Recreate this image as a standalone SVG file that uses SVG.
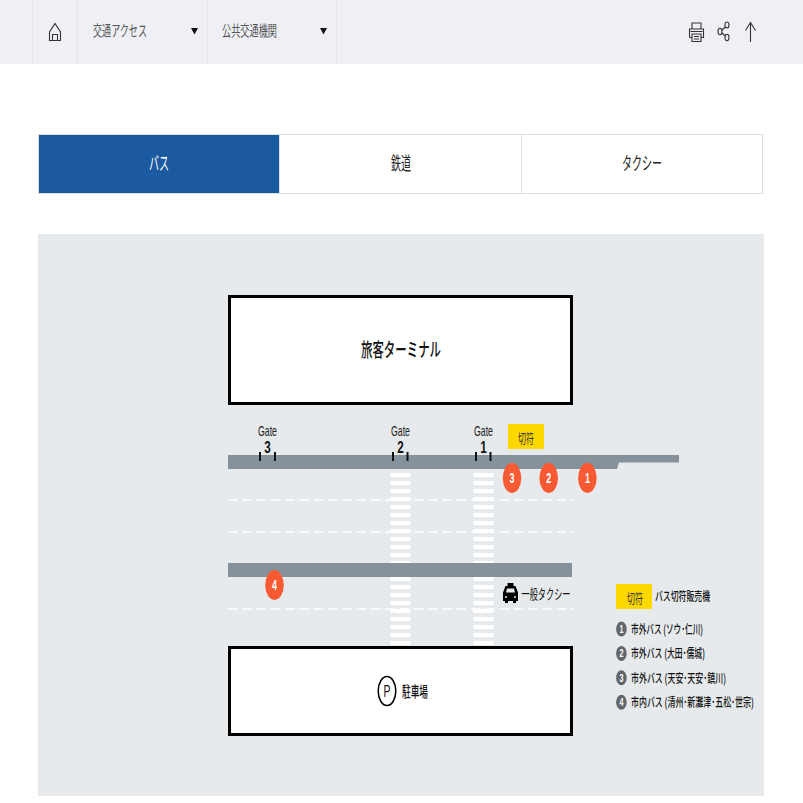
<svg xmlns="http://www.w3.org/2000/svg" width="803" height="803" viewBox="0 0 803 803">
<style>
text{font-family:"Noto Sans CJK JP","Noto Sans",sans-serif;fill:#111}
.nav{font-size:14.500px;fill:#555}
.tab{font-size:18px;text-anchor:middle;fill:#222}
.ln{fill:none;stroke:#333;stroke-width:1.100}
.sep{stroke:#e3e5e8;stroke-width:1}
.dash{stroke:#fff;stroke-width:1.500;stroke-dasharray:9.500 4.800;fill:none}
.road{fill:#85929b}
.stripe{stroke:#fff;stroke-width:20;stroke-dasharray:4 4;fill:none}
.bld{fill:#fff;stroke:#000;stroke-width:3}
.tick{stroke:#111;stroke-width:2}
.gate{font-family:"Liberation Sans",sans-serif;font-size:15px;text-anchor:middle;fill:#222}
.gn{font-family:"Liberation Sans",sans-serif;font-size:17px;font-weight:700;text-anchor:middle}
.pin{fill:#f95a33}
.pt{font-family:"Liberation Sans",sans-serif;font-weight:700;font-size:14px;fill:#fff;text-anchor:middle}
.leg{font-size:12.500px;font-weight:500}
.lc{fill:#5f666c}
.lt{font-family:"Liberation Sans",sans-serif;font-weight:700;font-size:11px;fill:#fff;text-anchor:middle}
.tk{fill:#ffd800}
.tkt{font-size:13px;text-anchor:middle;fill:#333}
</style>
<rect width="803" height="803" fill="#fff"/>
<g id="topbar">
<rect x="0" y="0" width="803" height="64" fill="#eef0f5"/>
<path class="sep" d="M32.500 0V64M77.500 0V64M207.500 0V64M336.500 0V64"/>
<path class="ln" d="M49.500 40.500V32L55 23.500L60.500 32V40.500ZM52.500 40.500V34.500H57.500V40.500"/>
<text class="nav" x="93" y="36" textLength="54" lengthAdjust="spacingAndGlyphs">交通アクセス</text>
<path d="M191 28H198L194.500 34.500Z" fill="#111"/>
<text class="nav" x="222" y="36" textLength="55" lengthAdjust="spacingAndGlyphs">公共交通機関</text>
<path d="M320 28H327L323.500 34.500Z" fill="#111"/>
<path class="ln" d="M692 28.500V23H701V28.500M689.500 37.500V29H703.500V37.500H701M692 37.500H689.500M692 34H701V41.500H692ZM694 36.500H699M694 39H699M690.500 31.500H702.500"/>
<path class="ln" d="M722 30L725.300 27M722 33L725.300 36"/>
<ellipse class="ln" cx="720" cy="31.500" rx="2" ry="3.200"/>
<ellipse class="ln" cx="727" cy="25" rx="2" ry="3"/>
<ellipse class="ln" cx="727" cy="37.500" rx="2" ry="3.200"/>
<path class="ln" d="M750.500 42V22.500M745.500 30.500L750.500 22.500L755.500 30.500"/>
</g>
<g id="tabs">
<rect x="38.500" y="134.500" width="724" height="59" fill="#fff" stroke="#dcdfe2"/>
<rect x="39" y="135" width="240.500" height="58" fill="#1b5aa0"/>
<path d="M521.500 135V193" stroke="#dcdfe2"/>
<path d="M279.500 135V193" stroke="#dcdfe2"/>
<text class="tab" x="159" y="170" style="fill:#fff" textLength="20" lengthAdjust="spacingAndGlyphs">バス</text>
<text class="tab" x="401" y="170" textLength="20" lengthAdjust="spacingAndGlyphs">鉄道</text>
<text class="tab" x="642" y="170" textLength="40" lengthAdjust="spacingAndGlyphs">タクシー</text>
</g>
<rect x="38" y="234" width="726" height="562" fill="#e7eaed"/>
<g id="connectors">
<path class="dash" d="M228 500H574M228 532H574M228 609H574"/>
<path class="stripe" d="M400.500 473V645M483.500 473V645"/>
</g>
<g id="terminal">
<rect class="bld" x="229.500" y="296.500" width="342" height="107"/>
<text x="401" y="357" font-size="19" font-weight="500" text-anchor="middle" textLength="80" lengthAdjust="spacingAndGlyphs">旅客ターミナル</text>
</g>
<g id="road-upper">
<path class="road" d="M228 455H679V462.500H619L617 469H228Z"/>
</g>
<g id="road-lower">
<rect class="road" x="228" y="563" width="344" height="14"/>
</g>
<g id="gate3">
<text class="gate" x="267.500" y="436" textLength="19" lengthAdjust="spacingAndGlyphs">Gate</text>
<text class="gn" x="267.500" y="453" textLength="6.500" lengthAdjust="spacingAndGlyphs">3</text>
<path class="tick" d="M260 452V461M275 452V461"/>
</g>
<g id="gate2">
<text class="gate" x="400.500" y="436" textLength="19" lengthAdjust="spacingAndGlyphs">Gate</text>
<text class="gn" x="400.500" y="453" textLength="6.500" lengthAdjust="spacingAndGlyphs">2</text>
<path class="tick" d="M393 452V461M407.500 452V461"/>
</g>
<g id="gate1">
<text class="gate" x="483.500" y="436" textLength="19" lengthAdjust="spacingAndGlyphs">Gate</text>
<text class="gn" x="483.500" y="453" textLength="6.500" lengthAdjust="spacingAndGlyphs">1</text>
<path class="tick" d="M476 452V461M490.500 452V461"/>
</g>
<g id="ticket-top">
<rect class="tk" x="508" y="424" width="36" height="25"/>
<text class="tkt" x="526" y="442.500" textLength="16" lengthAdjust="spacingAndGlyphs">切符</text>
</g>
<g id="stop3"><ellipse class="pin" cx="512" cy="478" rx="9.300" ry="15"/><text class="pt" x="512" y="483" textLength="5" lengthAdjust="spacingAndGlyphs">3</text></g>
<g id="stop2"><ellipse class="pin" cx="548.700" cy="478" rx="9.300" ry="15"/><text class="pt" x="548.700" y="483" textLength="5" lengthAdjust="spacingAndGlyphs">2</text></g>
<g id="stop1"><ellipse class="pin" cx="587.400" cy="478" rx="9.300" ry="15"/><text class="pt" x="587.400" y="483" textLength="5" lengthAdjust="spacingAndGlyphs">1</text></g>
<g id="stop4"><ellipse class="pin" cx="274.500" cy="585" rx="9.300" ry="15"/><text class="pt" x="274.500" y="590" textLength="5" lengthAdjust="spacingAndGlyphs">4</text></g>
<g id="taxi">
<path d="M507.500 583H513.500V586H515.500L518 592.500V601H516V603H513V601H508V603H505V601H503V592.500L505.500 586H507.500Z" fill="#000"/>
<path d="M507 588.500H514L515 592.500H506Z" fill="#e7eaed"/>
<circle cx="506" cy="597" r="1" fill="#e7eaed"/><circle cx="515" cy="597" r="1" fill="#e7eaed"/>
<text x="521.500" y="599" font-size="14" textLength="49" lengthAdjust="spacingAndGlyphs">一般タクシー</text>
</g>
<g id="parking">
<rect class="bld" x="229.500" y="647.500" width="342" height="87"/>
<ellipse cx="387" cy="691" rx="8.800" ry="14.500" fill="#fff" stroke="#000" stroke-width="1.500"/>
<text x="387" y="697" font-size="16" text-anchor="middle" textLength="7" lengthAdjust="spacingAndGlyphs" style="font-family:'Liberation Sans',sans-serif">P</text>
<text x="402" y="696.500" font-size="15" font-weight="500" textLength="26" lengthAdjust="spacingAndGlyphs">駐車場</text>
</g>
<g id="legend">
<rect class="tk" x="616" y="584" width="36" height="25"/>
<text class="tkt" x="635" y="603" textLength="16" lengthAdjust="spacingAndGlyphs">切符</text>
<text class="leg" x="655" y="601" textLength="55" lengthAdjust="spacingAndGlyphs">バス切符販売機</text>
<ellipse class="lc" cx="621.400" cy="629" rx="5.300" ry="7.500"/><text class="lt" x="621.400" y="633" textLength="4" lengthAdjust="spacingAndGlyphs">1</text>
<text class="leg" x="631" y="633.500" textLength="72" lengthAdjust="spacingAndGlyphs">市外バス (ソウ･仁川)</text>
<ellipse class="lc" cx="621.400" cy="653.400" rx="5.300" ry="7.500"/><text class="lt" x="621.400" y="657.400" textLength="4" lengthAdjust="spacingAndGlyphs">2</text>
<text class="leg" x="631" y="658" textLength="74" lengthAdjust="spacingAndGlyphs">市外バス (大田･儒城)</text>
<ellipse class="lc" cx="621.400" cy="677.800" rx="5.300" ry="7.500"/><text class="lt" x="621.400" y="681.800" textLength="4" lengthAdjust="spacingAndGlyphs">3</text>
<text class="leg" x="631" y="682.500" textLength="95" lengthAdjust="spacingAndGlyphs">市外バス (天安･天安･鎮川)</text>
<ellipse class="lc" cx="621.400" cy="702.300" rx="5.300" ry="7.500"/><text class="lt" x="621.400" y="706.300" textLength="4" lengthAdjust="spacingAndGlyphs">4</text>
<text class="leg" transform="translate(631 707) scale(.65 1)" x="0" y="0" textLength="189" lengthAdjust="spacingAndGlyphs">市内バス (清州･新灘津･五松･世宗)</text>
</g>
</svg>
